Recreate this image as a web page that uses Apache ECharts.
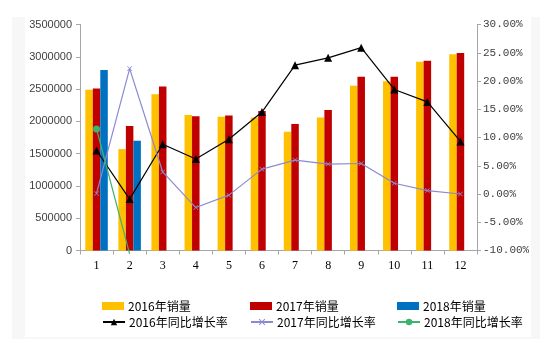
<!DOCTYPE html>
<html><head><meta charset="utf-8">
<script src="https://cdn.jsdelivr.net/npm/echarts@6/dist/echarts.min.js"></script>
<style>html,body{margin:0;padding:0;background:#fff}#c{width:540px;height:347px}</style>
</head><body><div id="c"></div>
<script>
const categories = ['1','2','3','4','5','6','7','8','9','10','11','12'];
const sales2016 = [2490000,1570000,2420000,2100000,2070000,2060000,1840000,2060000,2550000,2620000,2925000,3040000];
const sales2017 = [2510000,1930000,2540000,2080000,2090000,2160000,1960000,2175000,2690000,2690000,2940000,3060000];
const sales2018 = [2795000,1700000];
const growth2016 = [7.7,-0.9,8.8,6.2,9.7,14.5,22.8,24.1,25.9,18.5,16.3,9.3];
const growth2017 = [0.1,22.2,3.9,-2.4,-0.2,4.4,6.0,5.3,5.4,1.9,0.6,0.0];
const growth2018 = [11.5,-10.6];
const leftTicks = {min:0,max:3500000,interval:500000};
const rightTicks = {min:-10,max:30,interval:5};

const names = ['2016年销量','2017年销量','2018年销量','2016年同比增长率','2017年同比增长率','2018年同比增长率'];
const chart = echarts.init(document.getElementById('c'));
const font = '"Noto Sans CJK SC", sans-serif';
const legendPos = [[102,300],[250,300],[397,300],[102,316],[250,316],[397,316]];
const xPath = 'path://M0,1L1,0L5,4L9,0L10,1L6,5L10,9L9,10L5,6L1,10L0,9L4,5Z';

chart.setOption({
  animation:false,
  backgroundColor:'#fff',
  graphic:[
    {type:'rect',shape:{x:12,y:17,width:528,height:322},style:{fill:'#F7F7F7'},z:-10},
    {type:'rect',shape:{x:25,y:17,width:506,height:320},style:{fill:'#FFFFFF'},z:-9}
  ],
  legend: names.map((n,i)=>{
    const l = {
      data:[n], left:legendPos[i][0], top:legendPos[i][1], padding:0,
      itemWidth:22, itemHeight:8, itemGap:4,
      textStyle:{fontFamily:font,fontSize:12,color:'#000',padding:[0,0,0,-1]}
    };
    if (i < 3) l.icon = 'rect';
    return l;
  }),
  grid:{left:80,right:63,top:24.5,bottom:96.5},
  xAxis:{type:'category',data:categories,boundaryGap:true,
    axisLine:{lineStyle:{color:'#A6A6A6'}},
    axisTick:{show:true,length:4,lineStyle:{color:'#A6A6A6'}},
    axisLabel:{fontFamily:'"Liberation Serif", serif',fontSize:12,color:'#000',margin:9}},
  yAxis:[
    {type:'value',min:leftTicks.min,max:leftTicks.max,interval:leftTicks.interval,
     axisLine:{show:true,lineStyle:{color:'#A6A6A6'}},
     axisTick:{show:true,length:4,lineStyle:{color:'#A6A6A6'}},
     splitLine:{show:false},
     axisLabel:{fontFamily:'"Liberation Sans", Arial, sans-serif',fontSize:11,color:'#404040',margin:8,
       formatter:v=>String(v)}},
    {type:'value',min:rightTicks.min,max:rightTicks.max,interval:rightTicks.interval,position:'right',
     axisLine:{show:true,lineStyle:{color:'#A6A6A6'}},
     axisTick:{show:true,length:4,lineStyle:{color:'#A6A6A6'}},
     splitLine:{show:false},
     axisLabel:{fontFamily:'"Liberation Mono", monospace',fontSize:11,color:'#404040',margin:6,
       formatter:v=>v.toFixed(2)+'%'}}
  ],
  series:[
    {name:names[0],type:'bar',data:sales2016,barWidth:7.5,barGap:'0%',itemStyle:{color:'#FFC000'}},
    {name:names[1],type:'bar',data:sales2017,barWidth:7.5,barGap:'0%',itemStyle:{color:'#C00000'}},
    {name:names[2],type:'bar',data:sales2018,barWidth:7.5,barGap:'0%',itemStyle:{color:'#0070C0'}},
    {name:names[3],type:'line',yAxisIndex:1,data:growth2016,symbol:'triangle',symbolSize:8,
     lineStyle:{color:'#000',width:1.2},itemStyle:{color:'#000'}},
    {name:names[4],type:'line',yAxisIndex:1,data:growth2017,symbol:xPath,symbolSize:5,
     lineStyle:{color:'#8A8AD0',width:1.2},itemStyle:{color:'#8A8AD0'}},
    {name:names[5],type:'line',yAxisIndex:1,clip:false,
     data:[growth2018[0],{value:growth2018[1],symbol:'none'}],symbol:'circle',symbolSize:7,
     lineStyle:{color:'#3CB371',width:1.2},itemStyle:{color:'#3CB371'}}
  ]
});
</script></body></html>
